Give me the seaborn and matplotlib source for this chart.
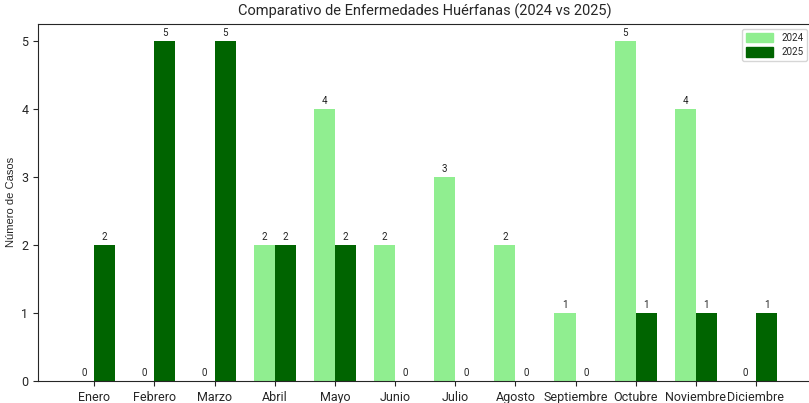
import pandas as pd
import matplotlib
matplotlib.use("Agg")
import matplotlib.pyplot as plt
import matplotlib.patches as mpatches
import seaborn as sns

meses = ['Enero', 'Febrero', 'Marzo', 'Abril', 'Mayo', 'Junio', 'Julio',
         'Agosto', 'Septiembre', 'Octubre', 'Noviembre', 'Diciembre']
casos_2024 = [0, 0, 0, 2, 4, 2, 3, 2, 1, 5, 4, 0]
casos_2025 = [2, 5, 5, 2, 2, 0, 0, 0, 0, 1, 1, 1]
colores = {'2024': '#90EE90', '2025': '#006400'}

df = pd.DataFrame({'Mes': meses * 2,
                   'Año': ['2024'] * 12 + ['2025'] * 12,
                   'Casos': casos_2024 + casos_2025})

sns.set_style("ticks")
plt.rcParams['font.family'] = ['Roboto', 'DejaVu Sans']

fig = plt.figure(figsize=(8.09, 4.03), dpi=100)
ax = fig.add_axes([0.047, 0.055, 0.957, 0.886])

sns.barplot(data=df, x='Mes', y='Casos', hue='Año', order=meses,
            palette=colores, width=0.7, gap=0, saturation=1,
            linewidth=0, ax=ax)

# etichette sopra le barre, anche per gli zeri
for cont in ax.containers:
    ax.bar_label(cont, fmt='%d', padding=2, fontsize=7, color='#222222')

ax.set_xlim(-0.935, 11.935)
ax.set_ylim(0, 5.25)
ax.set_xlabel('')
ax.set_ylabel('Número de Casos', fontsize=8, family=['Liberation Sans', 'DejaVu Sans'])
ax.set_title('Comparativo de Enfermedades Huérfanas (2024 vs 2025)', fontsize=10.5)
ax.tick_params(labelsize=9)

handles = [mpatches.Patch(color=c, label=k) for k, c in colores.items()]
ax.legend(handles=handles, loc='upper right', fontsize=7, frameon=True,
          handlelength=2.8, handleheight=1.1)

fig.savefig('out.png', dpi=100)
